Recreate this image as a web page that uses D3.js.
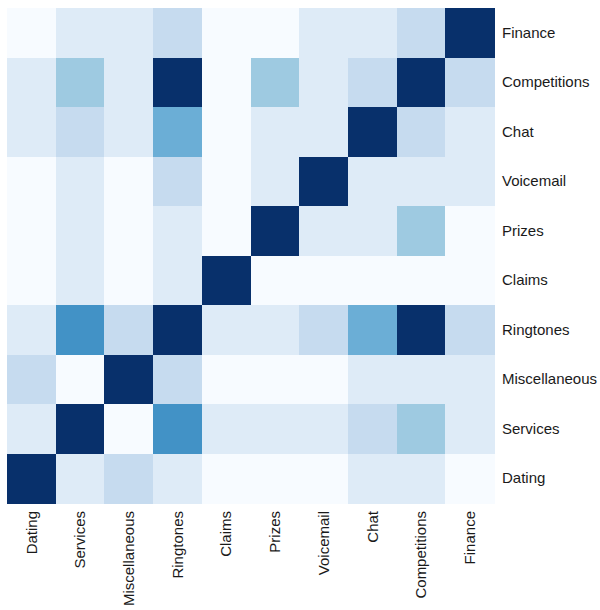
<!DOCTYPE html>
<meta charset="utf-8">
<title>Heatmap</title>
<style>
  body { margin: 0; background: #fff; }
  text { font-family: "Liberation Sans", Arial, sans-serif; }
</style>
<div id="viz"></div>
<script src="https://cdnjs.cloudflare.com/ajax/libs/d3/7.8.5/d3.min.js"></script>
<script>

var width = 600;
var height = 610;

// columns left to right
var columns = ["Dating", "Services", "Miscellaneous", "Ringtones", "Claims",
  "Prizes", "Voicemail", "Chat", "Competitions", "Finance"];
// rows top to bottom
var rows = ["Finance", "Competitions", "Chat", "Voicemail", "Prizes",
  "Claims", "Ringtones", "Miscellaneous", "Services", "Dating"];

// similarity values, one row per entry of `rows`, ordered like `columns`
var values = [
  [0.05, 0.15, 0.15, 0.28, 0.05, 0.05, 0.15, 0.15, 0.28, 1.00],
  [0.15, 0.38, 0.15, 1.00, 0.05, 0.38, 0.15, 0.28, 1.00, 0.28],
  [0.15, 0.28, 0.15, 0.50, 0.05, 0.15, 0.15, 1.00, 0.28, 0.15],
  [0.05, 0.15, 0.05, 0.28, 0.05, 0.15, 1.00, 0.15, 0.15, 0.15],
  [0.05, 0.15, 0.05, 0.15, 0.05, 1.00, 0.15, 0.15, 0.38, 0.05],
  [0.05, 0.15, 0.05, 0.15, 1.00, 0.05, 0.05, 0.05, 0.05, 0.05],
  [0.15, 0.60, 0.28, 1.00, 0.15, 0.15, 0.28, 0.50, 1.00, 0.28],
  [0.28, 0.05, 1.00, 0.28, 0.05, 0.05, 0.05, 0.15, 0.15, 0.15],
  [0.15, 1.00, 0.05, 0.60, 0.15, 0.15, 0.15, 0.28, 0.38, 0.15],
  [1.00, 0.15, 0.28, 0.15, 0.05, 0.05, 0.05, 0.15, 0.15, 0.05]
];

var svg = d3.select("#viz")
  .append("svg")
  .attr("width", width)
  .attr("height", height);

var x = d3.scaleBand().domain(columns).range([7, 494]).padding(0);
var y = d3.scaleBand().domain(rows).range([8, 503]).padding(0);

var color = d3.scaleQuantize()
  .domain([0, 1])
  .range(d3.schemeBlues[9]);

var cells = [];
rows.forEach(function(r, i) {
  columns.forEach(function(c, j) {
    cells.push({row: r, col: c, v: values[i][j]});
  });
});

svg.append("g")
  .attr("shape-rendering", "crispEdges")
  .selectAll("rect")
  .data(cells)
  .enter().append("rect")
  .attr("x", d => x(d.col))
  .attr("y", d => y(d.row))
  .attr("width", x.bandwidth() + 0.5)
  .attr("height", y.bandwidth() + 0.5)
  .attr("fill", d => color(d.v));

// row labels on the right
var yAxis = svg.append("g")
  .attr("transform", "translate(494,0)")
  .call(d3.axisRight(y).tickSize(0).tickPadding(8));
yAxis.select(".domain").remove();
yAxis.selectAll("text")
  .style("font-size", "15px")
  .style("font-family", "'Liberation Sans', Arial, sans-serif")
  .attr("fill", "#1a1a1a");

// column labels underneath, rotated
var xAxis = svg.append("g")
  .attr("transform", "translate(0,503)")
  .call(d3.axisBottom(x).tickSize(0).tickPadding(8));
xAxis.select(".domain").remove();
xAxis.selectAll("text")
  .style("font-size", "15px")
  .style("font-family", "'Liberation Sans', Arial, sans-serif")
  .attr("fill", "#1a1a1a")
  .attr("text-anchor", "end")
  .attr("dy", "0.35em")
  .attr("transform", "rotate(-90)")
  .attr("x", -8)
  .attr("y", 0);

</script>
